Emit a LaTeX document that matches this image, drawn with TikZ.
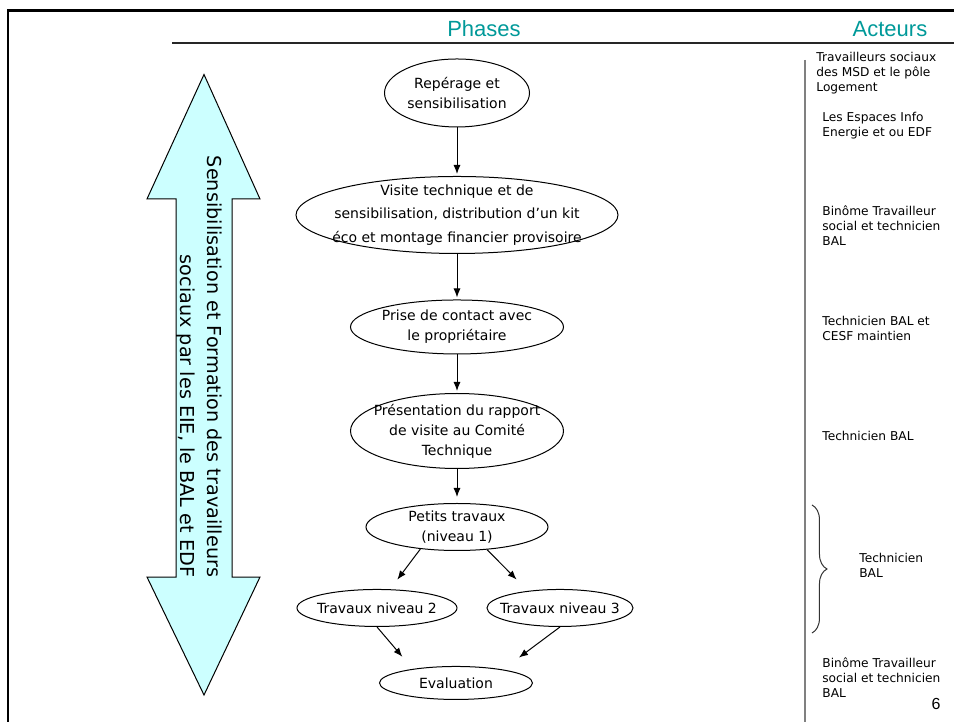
\documentclass[tikz,border=0pt]{standalone}
\usepackage{fontspec}
\setmainfont{DejaVu Sans}
\newfontfamily\headfont{Liberation Sans}
\usetikzlibrary{arrows.meta, shapes.geometric, decorations.pathreplacing}
\definecolor{phteal}{HTML}{009999}
\definecolor{phcyan}{HTML}{CCFFFF}
\definecolor{phgray}{HTML}{808080}

\begin{document}
\begin{tikzpicture}[
  phase/.style={ellipse, draw, line width=0.5pt, inner sep=-30pt, align=center, font=\fontsize{7}{10}\selectfont},
  actor/.style={anchor=west, align=left, inner sep=0pt, font=\fontsize{6.1}{7.5}\selectfont},
  flow/.style={-{Latex[length=4.5pt, width=3.5pt]}, line width=0.5pt, shorten >=1pt},
  coltitle/.style={anchor=base, text=phteal, font=\headfont\fontsize{11}{13}\selectfont},
]
\useasboundingbox (0,0) rectangle (16.765,-12.688);

% Frame and column rules
\draw[line width=1.25pt] (0.141,-12.688) |- (16.765,-0.185);
\draw[line width=0.6pt, black!85] (3.023,-0.756) -- (16.765,-0.756);
\draw[phgray, line width=0.9pt] (14.146,-1.054) -- (14.146,-12.688);

\node[coltitle] (phases) at (8.505,-0.650) {Phases};
\node[coltitle] (acteurs) at (15.640,-0.650) {Acteurs};

% Left: training double arrow
\draw[fill=phcyan, line width=0.5pt] (3.585,-1.309) -- (4.569,-3.497) -- (4.077,-3.497) -- (4.077,-10.140)
  -- (4.569,-10.140) -- (3.585,-12.213) -- (2.583,-10.140) -- (3.093,-10.140) -- (3.093,-3.497)
  -- (2.583,-3.497) -- cycle;
\node[rotate=-90, align=right, font=\fontsize{9.6}{13.5}\selectfont] (training) at (3.506,-6.441)
  {Sensibilisation et Formation des travailleurs\\sociaux par les EIE, le BAL et EDF};

% Middle: phases
\node[phase, minimum width=72.5pt, minimum height=34pt] (rep) at (8.031,-1.634) {Repérage et\\sensibilisation};
\node[phase, minimum width=161pt, minimum height=38.5pt, font=\fontsize{7}{11.8}\selectfont] (visite) at (8.031,-3.778)
  {Visite technique et de\\sensibilisation, distribution d’un kit\\éco et montage financier provisoire};
\node[phase, minimum width=106.5pt, minimum height=27pt] (prise) at (8.031,-5.746) {Prise de contact avec\\le propriétaire};
\node[phase, minimum width=106.5pt, minimum height=37.5pt] (pres) at (8.031,-7.574) {Présentation du rapport\\de visite au Comité\\Technique};
\node[phase, minimum width=91pt, minimum height=23.5pt] (petits) at (8.031,-9.261) {Petits travaux\\(niveau 1)};
\node[phase, minimum width=80pt, minimum height=18.5pt] (t2) at (6.625,-10.684) {Travaux niveau 2};
\node[phase, minimum width=73pt, minimum height=18.5pt] (t3) at (9.841,-10.684) {Travaux niveau 3};
\node[phase, minimum width=76.5pt, minimum height=16.5pt] (eval) at (8.013,-12.002) {Evaluation};

\draw[flow] (rep) -- (visite);
\draw[flow] (visite) -- (prise);
\draw[flow] (prise) -- (pres);
\draw[flow, shorten >=3pt] (pres) -- (petits);
\draw[flow, shorten >=6pt] (petits.211) -- (t2.55);
\draw[flow, shorten >=8pt] (petits.323) -- (t3.152);
\draw[flow, shorten >=8pt] (t2.south) -- (eval.162);
\draw[flow, shorten >=10pt] (t3.south) -- (eval.16);

% Right: actors
\node[actor] (a1) at (14.340,-1.283) {Travailleurs sociaux\\des MSD et le pôle\\Logement};
\node[actor] (a2) at (14.445,-2.205) {Les Espaces Info\\Energie et ou EDF};
\node[actor] (a3) at (14.445,-3.971) {Binôme Travailleur\\social et technicien\\BAL};
\node[actor] (a4) at (14.445,-5.764) {Technicien BAL et\\CESF maintien};
\node[actor] (a5) at (14.445,-7.662) {Technicien BAL};
\node[actor] (a6) at (15.095,-9.929) {Technicien\\BAL};
\node[actor] (a7) at (14.445,-11.914) {Binôme Travailleur\\social et technicien\\BAL};

\draw[decorate, decoration={brace, amplitude=7.5pt}, line width=0.5pt, black!80] (14.269,-8.874) -- (14.269,-11.124);

\node[font=\headfont\fontsize{8}{9.6}\selectfont] (pagenum) at (16.448,-12.371) {6};

\end{tikzpicture}
\end{document}
